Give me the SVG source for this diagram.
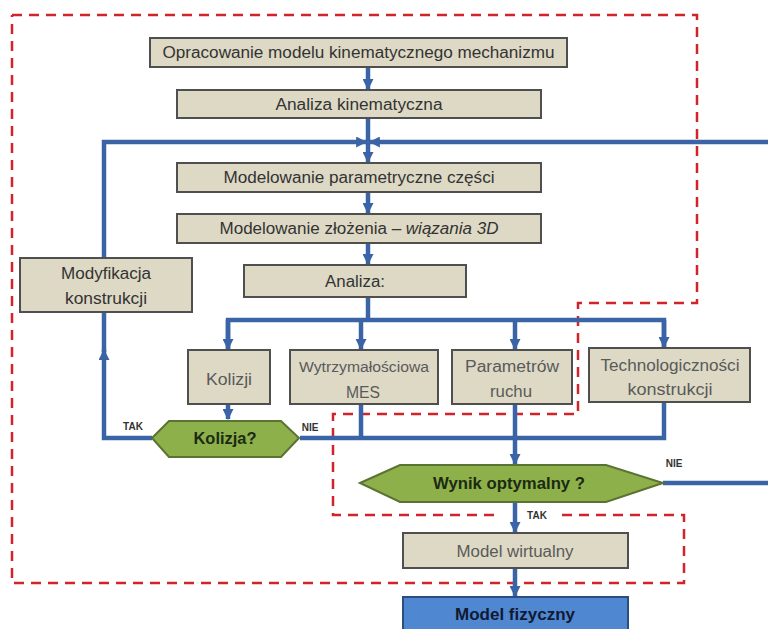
<svg xmlns="http://www.w3.org/2000/svg" width="768" height="629" viewBox="0 0 768 629">
<style>
.box{fill:#ddd9c5;stroke:#4f4f4f;stroke-width:2}
.t{font-family:"Liberation Sans",Arial,sans-serif;font-size:16px;fill:#333;text-anchor:middle}
.tl{font-family:"Liberation Sans",Arial,sans-serif;font-size:16px;fill:#5a5a5a;text-anchor:middle}
.hex{fill:#8db04b;stroke:#5b7332;stroke-width:2}
.tb{font-family:"Liberation Sans",Arial,sans-serif;font-size:16px;font-weight:bold;fill:#1c2a12;text-anchor:middle}
.lab{font-family:"Liberation Sans",Arial,sans-serif;font-size:10px;font-weight:bold;fill:#333;text-anchor:middle}
.c{fill:none;stroke:#3b64a6;stroke-width:4.5;stroke-linejoin:miter}
.dash{fill:none;stroke:#d2232a;stroke-width:2.5;stroke-dasharray:10 7}
</style>
<defs>
<marker id="ah" viewBox="0 0 10 10" refX="9" refY="5" markerUnits="userSpaceOnUse" markerWidth="11" markerHeight="11" orient="auto">
<path d="M0,0 L10,5 L0,10 Z" fill="#3b64a6"/>
</marker>
</defs>
<rect width="768" height="629" fill="#ffffff"/>

<g id="boundary">
<path class="dash" d="M12,15 H697 V303 H578 V414 H333 V515 H498"/>
<path class="dash" d="M562,515 H684 V583 H12 V15"/>
</g>

<g id="connectors">
<path class="c" d="M368,67 V89" marker-end="url(#ah)"/>
<path class="c" d="M368,118 V162" marker-end="url(#ah)"/>
<path class="c" d="M104,258 V142 H366" marker-end="url(#ah)"/>
<path class="c" d="M768,142 H370" marker-end="url(#ah)"/>
<path class="c" d="M368,192 V213" marker-end="url(#ah)"/>
<path class="c" d="M368,243 V264" marker-end="url(#ah)"/>
<path class="c" d="M368,297 V320"/>
<path class="c" d="M228,349 V320 H664 V347"/>
<path class="c" d="M228,320 V349" marker-end="url(#ah)"/>
<path class="c" d="M361,320 V349" marker-end="url(#ah)"/>
<path class="c" d="M515,320 V349" marker-end="url(#ah)"/>
<path class="c" d="M664,320 V347" marker-end="url(#ah)"/>
<path class="c" d="M228,404 V419" marker-end="url(#ah)"/>
<path class="c" d="M152,438 H104 V350" marker-end="url(#ah)"/>
<path class="c" d="M104,352 V312"/>
<path class="c" d="M300,438 H664 V402"/>
<path class="c" d="M361,404 V438"/>
<path class="c" d="M515,404 V464" marker-end="url(#ah)"/>
<path class="c" d="M663,483 H768"/>
<path class="c" d="M515,502 V532" marker-end="url(#ah)"/>
<path class="c" d="M515,568 V596" marker-end="url(#ah)"/>
</g>

<g id="n1"><rect class="box" x="150" y="38" width="417" height="29"/><text class="t" x="358.500" y="58" textLength="392" lengthAdjust="spacingAndGlyphs">Opracowanie modelu kinematycznego mechanizmu</text></g>
<g id="n2"><rect class="box" x="177" y="90" width="364" height="28"/><text class="t" x="359" y="110" textLength="167" lengthAdjust="spacingAndGlyphs">Analiza kinematyczna</text></g>
<g id="n3"><rect class="box" x="177" y="163" width="364" height="29"/><text class="t" x="359" y="183" textLength="271" lengthAdjust="spacingAndGlyphs">Modelowanie parametryczne części</text></g>
<g id="n4"><rect class="box" x="177" y="214" width="364" height="29"/><text class="t" x="359" y="234" textLength="279" lengthAdjust="spacingAndGlyphs">Modelowanie złożenia – <tspan font-style="italic">wiązania 3D</tspan></text></g>
<g id="n5"><rect class="box" x="244" y="265" width="222" height="32"/><text class="t" x="355" y="287" textLength="60" lengthAdjust="spacingAndGlyphs">Analiza:</text></g>
<g id="n6"><rect class="box" x="20" y="258" width="172" height="54"/><text class="t" x="106" y="279" textLength="90" lengthAdjust="spacingAndGlyphs">Modyfikacja</text><text class="t" x="106" y="304" textLength="82" lengthAdjust="spacingAndGlyphs">konstrukcji</text></g>
<g id="n7"><rect class="box" x="188" y="350" width="82" height="54"/><text class="tl" x="229" y="385" textLength="46" lengthAdjust="spacingAndGlyphs">Kolizji</text></g>
<g id="n8"><rect class="box" x="290" y="350" width="148" height="54"/><text class="tl" x="364" y="372" style="font-size:14px" textLength="130" lengthAdjust="spacingAndGlyphs">Wytrzymałościowa</text><text class="tl" x="363" y="398" textLength="34" lengthAdjust="spacingAndGlyphs">MES</text></g>
<g id="n9"><rect class="box" x="452" y="350" width="120" height="54"/><text class="tl" x="512" y="372" textLength="94" lengthAdjust="spacingAndGlyphs">Parametrów</text><text class="tl" x="511" y="397" textLength="42" lengthAdjust="spacingAndGlyphs">ruchu</text></g>
<g id="n10"><rect class="box" x="589" y="348" width="161" height="54"/><text class="tl" x="670" y="371" textLength="139" lengthAdjust="spacingAndGlyphs">Technologiczności</text><text class="tl" x="670" y="395" textLength="85" lengthAdjust="spacingAndGlyphs">konstrukcji</text></g>
<g id="n11"><polygon class="hex" points="152,438 169,421 281,421 299,438 281,457 169,457"/><text class="tb" x="225" y="444" style="font-size:17px" textLength="63" lengthAdjust="spacingAndGlyphs">Kolizja?</text></g>
<g id="n12"><polygon class="hex" points="360,483 400,465 606,465 663,483 606,502 400,502"/><text class="tb" x="509" y="489" style="font-size:17px" textLength="152" lengthAdjust="spacingAndGlyphs">Wynik optymalny ?</text></g>
<g id="n13"><rect class="box" x="403" y="533" width="225" height="35"/><text class="tl" x="515" y="557" textLength="117" lengthAdjust="spacingAndGlyphs">Model wirtualny</text></g>
<g id="n14"><rect x="403" y="597" width="225" height="40" fill="#4f87d0" stroke="#2c4d80" stroke-width="2"/><text class="tb" x="515" y="620" style="font-size:17px;fill:#111a33" textLength="120" lengthAdjust="spacingAndGlyphs">Model fizyczny</text></g>

<g id="labels">
<text class="lab" x="133" y="430">TAK</text>
<text class="lab" x="310" y="431">NIE</text>
<text class="lab" x="674" y="467">NIE</text>
<text class="lab" x="537" y="519">TAK</text>
</g>
</svg>
